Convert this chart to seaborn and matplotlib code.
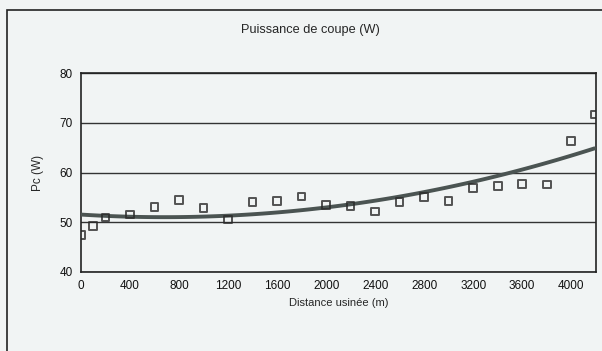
import matplotlib
matplotlib.use('Agg')
import matplotlib.pyplot as plt
from matplotlib.patches import Rectangle
import seaborn as sns
import numpy as np
import pandas as pd

# Données
distance = [0, 100, 200, 400, 600, 800, 1000, 1200, 1400, 1600, 1800, 2000,
            2200, 2400, 2600, 2800, 3000, 3200, 3400, 3600, 3800, 4000, 4190]
puissance = [47.4, 49.2, 50.9, 51.5, 53.1, 54.4, 52.8, 50.5, 54.1, 54.3, 55.2, 53.4,
             53.2, 52.1, 54.1, 55.1, 54.2, 56.9, 57.3, 57.7, 57.6, 66.3, 71.7]
x_ticks = list(range(0, 4001, 400))
y_ticks = [40, 50, 60, 70, 80]

df = pd.DataFrame({'distance': distance, 'pc': puissance})

sns.set_style('white')
plt.rcParams['font.family'] = ['Liberation Sans', 'DejaVu Sans']

bg = '#f1f4f4'
fig = plt.figure(figsize=(6.02, 3.51), dpi=100, facecolor=bg)
ax = fig.add_axes([0.1346, 0.226, 0.855, 0.565])
ax.set_facecolor(bg)

sns.regplot(data=df, x='distance', y='pc', order=2, ci=None, ax=ax,
            marker='s',
            scatter_kws={'s': 30, 'facecolors': 'none', 'edgecolors': '#2a2a2a',
                         'linewidths': 1.4, 'zorder': 4},
            line_kws={'color': '#4b5452', 'linewidth': 2.8, 'zorder': 3})

ax.set_xlim(0, 4200)
ax.set_ylim(40, 80)
ax.set_xticks(x_ticks)
ax.set_yticks(y_ticks)
ax.yaxis.grid(True, color='#333333', linewidth=1)
ax.set_axisbelow(True)
for s in ax.spines.values():
    s.set_color('#222222')
    s.set_linewidth(1.2)
ax.tick_params(axis='both', direction='out', length=3, width=1, color='#222222',
               labelsize=8.5, labelcolor='#111111', pad=3)

ax.set_xlabel('Distance usinée (m)', fontsize=8, labelpad=4)
ax.set_ylabel('Pc (W)', fontsize=8.5, labelpad=11)
fig.text(0.515, 0.915, 'Puissance de coupe (W)', ha='center', va='center',
         fontsize=9.2)

# cadre de la zone du graphique
fig.patches.append(Rectangle((7 / 602, -0.2), 1.2, 1.2 - 10 / 351,
                             transform=fig.transFigure, fill=False,
                             edgecolor='#222222', linewidth=1.2))

fig.savefig('out.png', dpi=100, facecolor=bg)
plt.close(fig)
